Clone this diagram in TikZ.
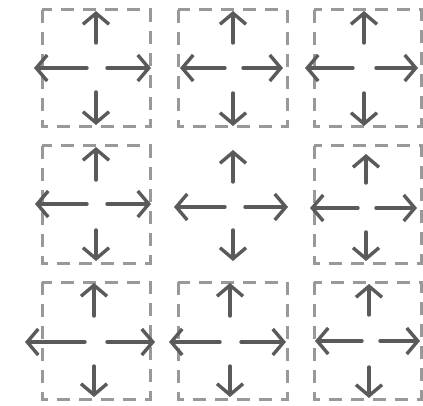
\documentclass[tikz,border=0pt]{standalone}
\usetikzlibrary{arrows.meta}
\definecolor{boxgray}{HTML}{999999}
\definecolor{arrgray}{HTML}{5A5A5A}
\begin{document}
\begin{tikzpicture}[x=1pt,y=-1pt,
  cellbox/.style={draw=boxgray, line width=3pt, dash pattern=on 13pt off 9pt},
  arr/.style={draw=arrgray, line width=3.4pt, line cap=round, -{Straight Barb[length=11pt,width=26pt]}}]
\useasboundingbox (0,0) rectangle (423,406);
% dashed cell frames (centre cell has none)
\foreach \n/\xa/\ya/\xb/\yb in {b00/42/10/150/127, b01/178/10/287/127, b02/314/10/421/127,
  b10/42/146/150/263, b12/314/146/421/263,
  b20/42/282/150/399, b21/178/282/287/399, b22/314/282/421/399}{
  \coordinate (\n-a) at (\xa,\ya);
  \coordinate (\n-b) at (\xb,\yb);
  \draw[cellbox] (\n-a) rectangle (\n-b);
}
% arrows: name/cx/cy/upTip/upStart/downStart/downTip/leftTip/leftStart/rightStart/rightTip
\foreach \n/\cx/\cy/\ut/\us/\ds/\dt/\lt/\ls/\rs/\rt in {
  c00/96/68/11/43/92/125/34/87/107/151,
  c01/233/68/11/43/93/126/180/225/243/283,
  c02/364/68/11/43/93/126/305/353/376/418,
  c10/96/204/147/180/230/261/35/87/107/151,
  c11/233/207/150/182/230/261/174/225/245/288,
  c12/366/208/154/183/232/261/310/358/376/417,
  c20/94/342/283/316/366/397/25/85/107/155,
  c21/230/342/283/316/366/397/169/220/241/286,
  c22/369/341/284/315/367/398/315/362/380/420}{
  \coordinate (\n-us) at (\cx,\us); \coordinate (\n-ut) at (\cx,\ut);
  \coordinate (\n-ds) at (\cx,\ds); \coordinate (\n-dt) at (\cx,\dt);
  \coordinate (\n-ls) at (\ls,\cy); \coordinate (\n-lt) at (\lt,\cy);
  \coordinate (\n-rs) at (\rs,\cy); \coordinate (\n-rt) at (\rt,\cy);
  \draw[arr] (\n-us) -- (\n-ut);
  \draw[arr] (\n-ds) -- (\n-dt);
  \draw[arr] (\n-ls) -- (\n-lt);
  \draw[arr] (\n-rs) -- (\n-rt);
}
\end{tikzpicture}
\end{document}
